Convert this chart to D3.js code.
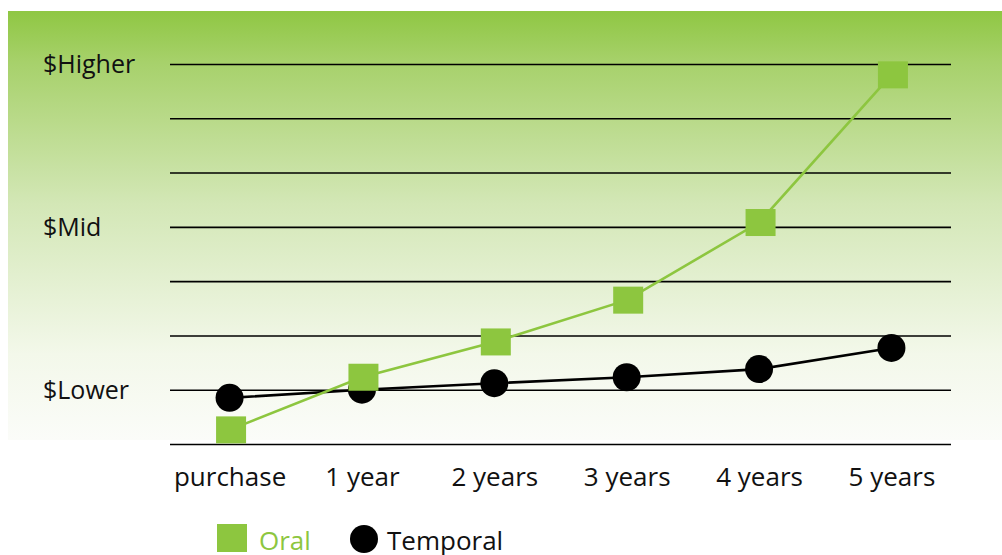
<!DOCTYPE html>
<html>
<head>
<meta charset="utf-8">
<script src="https://cdn.jsdelivr.net/npm/d3@7"></script>
<style>
  html, body { margin: 0; padding: 0; background: #fff; overflow: hidden; }
  svg { display: block; }
  text { font-family: "Open Sans", sans-serif; }
</style>
</head>
<body>
<svg></svg>
<script>
const width = 1002
const height = 555

// Data
const periods = ["purchase", "1 year", "2 years", "3 years", "4 years", "5 years"]
const oral = [0.26, 1.23, 1.88, 2.65, 4.08, 6.8]
const temporal = [0.85, 1.0, 1.12, 1.23, 1.38, 1.77]
const gridTicks = [0, 1, 2, 3, 4, 5, 6, 7]
const yLabels = [
    { value: 1, text: "$Lower" },
    { value: 4, text: "$Mid" },
    { value: 7, text: "$Higher" }
]

const green = "#8dc63f"

const svg = d3.select("svg")
    .attr("width", width)
    .attr("height", height)

// Background gradient
const defs = svg.append("defs")
const grad = defs.append("linearGradient")
    .attr("id", "bg")
    .attr("x1", 0).attr("y1", 0)
    .attr("x2", 0).attr("y2", 1)
grad.append("stop").attr("offset", "0%").attr("stop-color", "#8fc743")
grad.append("stop").attr("offset", "12%").attr("stop-color", "#a7d16b")
grad.append("stop").attr("offset", "45%").attr("stop-color", "#d3e7b6")
grad.append("stop").attr("offset", "80%").attr("stop-color", "#f3f8ea")
grad.append("stop").attr("offset", "100%").attr("stop-color", "#fbfcf9")

svg.append("rect")
    .attr("x", 8)
    .attr("y", 11)
    .attr("width", width - 8)
    .attr("height", 429)
    .attr("fill", "url(#bg)")

const margin = { top: 64, right: 51, bottom: 111, left: 170 }
const innerWidth = width - margin.left - margin.right
const innerHeight = height - margin.top - margin.bottom

const xScale = d3.scalePoint()
    .domain(periods)
    .range([0, innerWidth])
    .padding(0.45)

const yScale = d3.scaleLinear()
    .domain([0, 7])
    .range([innerHeight, 0])

const g = svg.append("g")
    .attr("transform", `translate(${margin.left}, ${margin.top})`)

// Grid lines
const yAxis = d3.axisLeft(yScale)
    .tickValues(gridTicks)
    .tickSize(-innerWidth)
    .tickFormat("")
const yAxisG = g.append("g").call(yAxis)
yAxisG.select(".domain").remove()
yAxisG.selectAll(".tick text").remove()
yAxisG.selectAll(".tick line")
    .attr("stroke", "#000")
    .attr("stroke-width", 1.6)

// Y labels
svg.selectAll(".ylabel").data(yLabels)
    .enter()
    .append("text")
    .attr("class", "ylabel")
    .attr("x", 43)
    .attr("y", d => margin.top + yScale(d.value) + 9)
    .attr("font-size", "25px")
    .attr("fill", "#111")
    .text(d => d.text)

// X axis
const xAxis = d3.axisBottom(xScale).tickSize(0).tickPadding(23)
const xAxisG = g.append("g")
    .attr("transform", `translate(0, ${innerHeight})`)
    .call(xAxis)
xAxisG.select(".domain").remove()
xAxisG.selectAll("text")
    .attr("dy", null)
    .attr("y", 42)
    .attr("font-size", "26px")
    .attr("font-family", "Open Sans")
    .attr("fill", "#111")

// Temporal line
const line = d3.line()
    .x((d, i) => xScale(periods[i]))
    .y(d => yScale(d))

g.append("path")
    .datum(temporal)
    .attr("d", line)
    .attr("fill", "none")
    .attr("stroke", "#000")
    .attr("stroke-width", 2.6)

g.selectAll(".temporal").data(temporal)
    .enter()
    .append("circle")
    .attr("class", "temporal")
    .attr("cx", (d, i) => xScale(periods[i]))
    .attr("cy", d => yScale(d))
    .attr("r", 14)
    .attr("fill", "#000")

// Oral line
g.append("path")
    .datum(oral)
    .attr("d", line)
    .attr("fill", "none")
    .attr("stroke", green)
    .attr("stroke-width", 2.6)

const sq = 29
g.selectAll(".oral").data(oral)
    .enter()
    .append("rect")
    .attr("class", "oral")
    .attr("x", (d, i) => xScale(periods[i]) - sq / 2 + 1)
    .attr("y", d => yScale(d) - 13.5)
    .attr("width", sq + 1)
    .attr("height", 27)
    .attr("fill", green)

// Legend
const legend = svg.append("g")
legend.append("rect")
    .attr("x", 217)
    .attr("y", 524)
    .attr("width", 30)
    .attr("height", 28)
    .attr("fill", green)
legend.append("text")
    .attr("x", 259)
    .attr("y", 550)
    .attr("font-size", "26px")
    .attr("fill", green)
    .text("Oral")
legend.append("circle")
    .attr("cx", 364)
    .attr("cy", 539)
    .attr("r", 14)
    .attr("fill", "#000")
legend.append("text")
    .attr("x", 387)
    .attr("y", 550)
    .attr("font-size", "26px")
    .attr("fill", "#111")
    .text("Temporal")
</script>
</body>
</html>
